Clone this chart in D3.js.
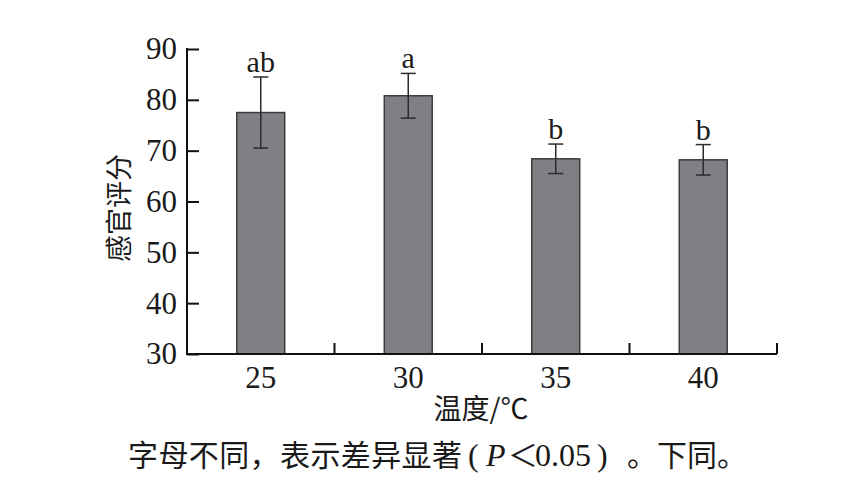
<!DOCTYPE html>
<html>
<head>
<meta charset="utf-8">
<script src="https://cdn.jsdelivr.net/npm/d3@7"></script>
<style>
  body { margin: 0; background: #fff; }
  svg text { fill: #1a1a1a; }
</style>
</head>
<body>
<div id="chart"></div>
<script>
// data
const temps   = ["25", "30", "35", "40"];
const scores  = [77.5, 80.8, 68.4, 68.2];
const errors  = [7.0, 4.4, 2.9, 3.0];
const letters = ["ab", "a", "b", "b"];
const yTicks  = [30, 40, 50, 60, 70, 80, 90];

const W = 864, H = 486;
const latin = "'Liberation Serif', 'Times New Roman', serif";
const cjk = "'Noto Sans CJK SC', 'Liberation Serif', sans-serif";

const margin = { top: 49, right: 87, bottom: 132, left: 187 };
const width = W - margin.left - margin.right;
const height = H - margin.top - margin.bottom;

const svg = d3.select("#chart").append("svg")
  .attr("width", W)
  .attr("height", H);

const g = svg.append("g")
  .attr("transform", "translate(" + margin.left + "," + margin.top + ")");

const data = temps.map((t, i) => ({ t: t, v: scores[i], e: errors[i], l: letters[i] }));

const x = d3.scaleBand().domain(temps).range([0, width])
  .paddingInner(0.675).paddingOuter(0.3375);

const y = d3.scaleLinear().domain([30, 90]).range([height, 0]);

// bars
g.selectAll("rect.bar").data(data).enter().append("rect")
  .attr("class", "bar")
  .attr("x", d => x(d.t))
  .attr("y", d => y(d.v))
  .attr("width", x.bandwidth())
  .attr("height", d => y(30) - y(d.v))
  .attr("fill", "#7f8084")
  .attr("stroke", "#3c3c3c")
  .attr("stroke-width", 1.5);

// error bars
const cap = 7.5;
const eb = g.selectAll("g.err").data(data).enter().append("g")
  .attr("class", "err")
  .attr("stroke", "#2b2b2b")
  .attr("stroke-width", 1.5);

eb.append("line")
  .attr("x1", d => x(d.t) + x.bandwidth() / 2)
  .attr("x2", d => x(d.t) + x.bandwidth() / 2)
  .attr("y1", d => y(d.v + d.e))
  .attr("y2", d => y(d.v - d.e));
eb.append("line")
  .attr("x1", d => x(d.t) + x.bandwidth() / 2 - cap)
  .attr("x2", d => x(d.t) + x.bandwidth() / 2 + cap)
  .attr("y1", d => y(d.v + d.e))
  .attr("y2", d => y(d.v + d.e));
eb.append("line")
  .attr("x1", d => x(d.t) + x.bandwidth() / 2 - cap)
  .attr("x2", d => x(d.t) + x.bandwidth() / 2 + cap)
  .attr("y1", d => y(d.v - d.e))
  .attr("y2", d => y(d.v - d.e));

// significance letters
g.selectAll("text.sig").data(data).enter().append("text")
  .attr("class", "sig")
  .attr("x", d => x(d.t) + x.bandwidth() / 2)
  .attr("y", d => y(d.v + d.e) - 5)
  .attr("text-anchor", "middle")
  .style("font-family", latin)
  .style("font-size", "30px")
  .text(d => d.l);

// y axis
const yAxis = g.append("g")
  .call(d3.axisLeft(y).tickValues(yTicks).tickSizeInner(-12).tickSizeOuter(0).tickPadding(10));
yAxis.select(".domain").remove();
yAxis.selectAll(".tick line").attr("stroke", "#111").attr("stroke-width", 2);
yAxis.selectAll("text")
  .style("font-family", latin)
  .style("font-size", "31px")
  .style("fill", "#1a1a1a");

g.append("line")
  .attr("x1", 0).attr("x2", 0)
  .attr("y1", y(90) - 1).attr("y2", y(30) + 1)
  .attr("stroke", "#111").attr("stroke-width", 2);

// x axis
const xAxis = g.append("g")
  .attr("transform", "translate(0," + height + ")")
  .call(d3.axisBottom(x).tickSize(0).tickPadding(12));
xAxis.select(".domain").remove();
xAxis.selectAll("text")
  .style("font-family", latin)
  .style("font-size", "31px")
  .style("fill", "#1a1a1a");

g.append("line")
  .attr("x1", 0).attr("x2", width)
  .attr("y1", height).attr("y2", height)
  .attr("stroke", "#111").attr("stroke-width", 2);

// category boundary ticks (pointing up)
const bounds = temps.map((t, i) => x(t) + x.bandwidth() + x.step() * x.paddingInner() / 2);
g.selectAll("line.bt").data(bounds).enter().append("line")
  .attr("class", "bt")
  .attr("x1", d => d).attr("x2", d => d)
  .attr("y1", height).attr("y2", height - 11)
  .attr("stroke", "#111").attr("stroke-width", 2);

// axis titles
svg.append("text")
  .attr("transform", "translate(129,208) rotate(-90)")
  .attr("text-anchor", "middle")
  .style("font-family", cjk)
  .style("font-size", "27px")
  .text("感官评分");

svg.append("text")
  .attr("x", 481)
  .attr("y", 419)
  .attr("text-anchor", "middle")
  .style("font-family", cjk)
  .style("font-size", "28px")
  .text("温度/℃");

// caption, pieces placed like the typeset original
const capY = 466;
const caption = svg.append("text")
  .attr("y", capY)
  .style("font-family", cjk)
  .style("font-size", "30px");
caption.append("tspan").attr("x", 128).style("letter-spacing", "0.4px").text("字母不同，表示差异显著");
caption.append("tspan").attr("x", 468).style("font-family", latin).style("font-size", "32px").text("(");
caption.append("tspan").attr("x", 486).style("font-family", latin).style("font-style", "italic").style("font-size", "32px").text("P");
caption.append("tspan").attr("x", 508).text("＜");
caption.append("tspan").attr("x", 535).style("font-family", latin).style("font-size", "32px").text("0.05");
caption.append("tspan").attr("x", 597).style("font-family", latin).style("font-size", "32px").text(")");
caption.append("tspan").attr("x", 627).text("。");
caption.append("tspan").attr("x", 657).text("下同。");
</script>
</body>
</html>
